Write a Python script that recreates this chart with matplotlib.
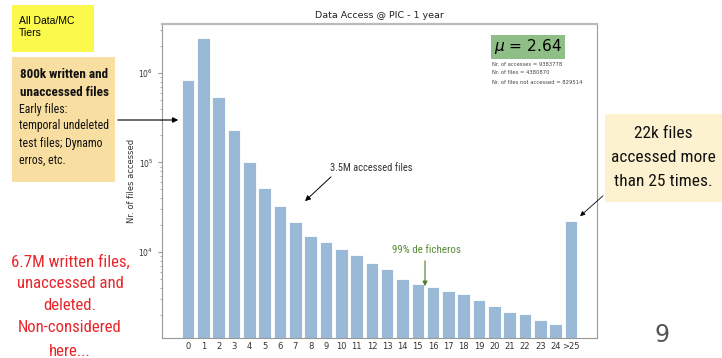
import matplotlib.pyplot as plt
from matplotlib import font_manager
import numpy as np

# Accesos por fichero (nr. de veces) -> nr. de ficheros
categorias = [str(i) for i in range(25)] + ['>25']
ficheros = [829514, 2480000, 540000, 229000, 102000, 51600, 32500, 21400,
            15200, 12800, 10700, 9250, 7530, 6460, 5040, 4360, 4030, 3640,
            3420, 2910, 2510, 2120, 2010, 1740, 1570, 22100]

titulo = 'Data Access @ PIC - 1 year'
media = 2.64
n_accesos = 9383778
n_ficheros = 4380870
n_no_accedidos = 829514

# buscar una fuente estrecha instalada
instaladas = {f.name for f in font_manager.fontManager.ttflist}
narrow = 'DejaVu Sans'
for cand in ['Roboto Condensed', 'Liberation Sans Narrow', 'DejaVu Sans Condensed',
             'Open Sans Condensed', 'Roboto', 'Liberation Sans']:
    if cand in instaladas:
        narrow = cand
        break

fig = plt.figure(figsize=(7.22, 3.58), dpi=100)
ax = fig.add_axes([0.2248, 0.0559, 0.6017, 0.8771])
renderer = fig.canvas.get_renderer()


def fx(px):
    return px / 722


def fy(py):
    return 1 - py / 358


def lineas(xp, ys, textos, ancho, factor=1.0, **kw):
    # una linea por texto; el tamaño se ajusta al ancho (px) de la linea más larga
    larga = max(textos, key=len)
    t = fig.text(0, 0, larga, family=narrow, fontstretch='condensed', fontsize=10,
                 fontweight=kw.get('fontweight', 'normal'))
    w = t.get_window_extent(renderer).width
    t.remove()
    fs = 10 * ancho / w * factor
    for s, yp in zip(textos, ys):
        fig.text(fx(xp), fy(yp), s, family=narrow, fontstretch='condensed', fontsize=fs,
                 va='center', **kw)


x = np.arange(len(categorias))
ax.bar(x, ficheros, width=0.82, color='#9ab9d6', edgecolor='white', linewidth=0.6)
ax.set_yscale('log')
ax.set_ylim(1094, 3.52e6)
ax.set_xlim(-1.68, 26.68)
ax.set_xticks(x)
ax.set_xticklabels(categorias, fontsize=6, color='#333333')
ax.set_yticks([1e4, 1e5, 1e6])
ax.tick_params(axis='y', which='major', labelsize=5.5, labelcolor='#333333', length=3, color='#999999')
ax.tick_params(axis='y', which='minor', length=1.5, color='#999999')
ax.tick_params(axis='x', length=0, pad=3)
ax.set_ylabel('Nr. of files accessed', fontsize=6, color='#333333', labelpad=2)
ax.set_title(titulo, fontsize=6.8, color='#222222', pad=4)
for s in ax.spines.values():
    s.set_color('#999999')
    s.set_linewidth(0.8)
ax.spines['top'].set_linewidth(1.6)
ax.spines['top'].set_color('#bbbbbb')

# cuadro de la media
fig.text(fx(494), fy(47), r'$\mu$ = %.2f' % media, fontsize=11.1, va='center', ha='left',
         bbox=dict(boxstyle='square,pad=0.17', fc='#8fbf86', ec='none'))
fig.text(fx(492), fy(64), 'Nr. of accesses = %d' % n_accesos, fontsize=3.8, color='#444444', va='center')
fig.text(fx(492), fy(73), 'Nr. of files = %d' % n_ficheros, fontsize=3.8, color='#444444', va='center')
fig.text(fx(492), fy(82), 'Nr. of files not accessed = %d' % n_no_accedidos, fontsize=3.8,
         color='#444444', va='center')

# cajas de la izquierda
fig.patches.append(plt.Rectangle((fx(12), fy(52)), fx(82), 47 / 358, transform=fig.transFigure,
                                 fc='#fbf94c', ec='none'))
fig.text(fx(19), fy(27), 'All Data/MC\nTiers', fontsize=7.5, family='Liberation Sans',
         va='center', ha='left', linespacing=1.3)

fig.patches.append(plt.Rectangle((fx(12), fy(182)), fx(103), 125 / 358, transform=fig.transFigure,
                                 fc='#f8dea0', ec='none'))
lineas(64, [75, 92], ['800k written and', 'unaccessed files'], 83, factor=1.06,
       fontweight='bold', ha='center', color='#111111')
lineas(19, [109, 126, 143, 160], ['Early files:', 'temporal undeleted', 'test files; Dynamo', 'erros, etc.'],
       87, factor=1.03, ha='left', color='#111111')
ax.annotate('', xy=(fx(181), fy(120)), xycoords='figure fraction',
            xytext=(fx(115), fy(120)), textcoords='figure fraction',
            arrowprops=dict(arrowstyle='-|>', color='black', lw=0.8, mutation_scale=8))

lineas(70, [262, 283, 305, 328, 351],
       ['6.7M written files,', 'unaccessed and', 'deleted.', 'Non-considered', 'here...'],
       112, factor=1.05, color='#e8262b', ha='center')

# anotaciones dentro del grafico
lineas(371, [168], ['3.5M accessed files'], 68, factor=1.2, color='#333333', ha='center')
ax.annotate('', xy=(fx(303), fy(203)), xycoords='figure fraction',
            xytext=(fx(333), fy(175)), textcoords='figure fraction',
            arrowprops=dict(arrowstyle='-|>', color='black', lw=0.7, mutation_scale=8))

lineas(426, [250], ['99% de ficheros'], 57, factor=1.2, color='#5b8a36', ha='center')
ax.annotate('', xy=(fx(425), fy(289)), xycoords='figure fraction',
            xytext=(fx(425), fy(258)), textcoords='figure fraction',
            arrowprops=dict(arrowstyle='-|>', color='#4f7d2c', lw=0.8, mutation_scale=7))

# caja de la derecha
fig.patches.append(plt.Rectangle((fx(605), fy(202)), fx(117), 88 / 358, transform=fig.transFigure,
                                 fc='#fdf2cf', ec='none'))
lineas(663, [134, 158, 182], ['22k files', 'accessed more', 'than 25 times.'], 92, factor=1.06,
       ha='center', color='#111111')
ax.annotate('', xy=(fx(578), fy(218)), xycoords='figure fraction',
            xytext=(fx(605), fy(194)), textcoords='figure fraction',
            arrowprops=dict(arrowstyle='-|>', color='black', lw=0.6, mutation_scale=7))

fig.text(fx(662), fy(335), '9', fontsize=17, color='#555555', ha='center', va='center')

fig.savefig('out.png', dpi=100)
